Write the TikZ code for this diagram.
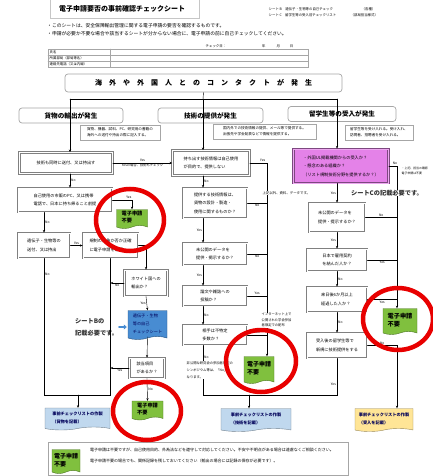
\documentclass[tikz,border=0pt]{standalone}
\usepackage{fontspec}
\setmainfont{Noto Sans CJK JP}
\usepackage{tikz}
\usetikzlibrary{shapes.symbols,arrows.meta}

\begin{document}
\begin{tikzpicture}
			[x=1pt,y=-1pt,line cap=round,>={Stealth[length=2.6pt,width=2.2pt]},
			%Styles
			check node/.style={draw=black!50,double=white,double distance=1pt,line width=.8pt,fill=white,inner sep=0pt,align=left,font={\fontsize{4.2}{8.5}\selectfont}},
			head node/.style={draw=gray!70,rounded corners=3pt,fill=white,line width=.7pt,font={\bfseries\fontsize{6.6}{8}\selectfont},minimum height=15pt},
			information text/.style={draw=gray!70,fill=white,line width=.5pt,inner sep=1.5pt,align=left,font={\fontsize{3.6}{6}\selectfont}},
			doc node/.style={tape,tape bend top=none,tape bend height=3pt,draw=#1!60!black,fill=#1,inner sep=1.5pt,align=left},
			small text/.style={font={\fontsize{3.4}{6}\selectfont},inner sep=.5pt,align=left},
			yn/.style={font={\fontsize{3.3}{4}\selectfont},inner sep=1pt},
			red ring/.style={draw=ringred,line width=4.5pt},
			boxsize/.style 2 args={minimum width=#1pt,minimum height=#2pt}
			]

			%Colors
			\definecolor{okgreen}{RGB}{128,192,62}
			\definecolor{sheetblue}{RGB}{72,140,210}
			\definecolor{listblue}{RGB}{192,216,238}
			\definecolor{listyellow}{RGB}{255,229,150}
			\definecolor{studypink}{RGB}{228,130,232}
			\definecolor{ringred}{RGB}{232,0,0}
			\colorlet{navytext}{blue!35!black}

			\useasboundingbox (0,0) rectangle (432,476);

			%Header of the sheet
			\node[draw=gray!45,boxsize={149}{27}] (title) at (124.5,5) {};
			\node[font={\bfseries\fontsize{7}{8}\selectfont}] (titletext) at (122,8.5) {電子申請要否の事前確認チェックシート};
			\node[small text,anchor=west] (sheetB) at (268,9) {シート B　遺伝子・生物等の自己チェック};
			\node[small text,anchor=west] (sheetBform) at (361,9) {（各種）};
			\node[small text,anchor=west] (sheetC) at (268,15.5) {シート C　留学生等の受入前チェックリスト};
			\node[small text,anchor=west] (sheetCform) at (350,15.5) {（部局担当様式）};
			\node[anchor=west,inner sep=0pt,font={\fontsize{4.8}{6}\selectfont}] (intro1) at (47,26) {・このシートは、安全保障輸出管理に関する電子申請の要否を確認するものです。};
			\node[anchor=west,inner sep=0pt,font={\fontsize{4.8}{6}\selectfont}] (intro2) at (47,34) {・申請が必要か不要な場合や該当するシートが分からない場合に、電子申請の前に自己チェックしてください。};
			\node[small text,anchor=west] (checkday) at (205,46) {チェック日：\hspace{36pt}年\hspace{11pt}月\hspace{10pt}日};
			\draw[gray!70,line width=.4pt] (48,49) rectangle (308,67) (48,55) -- (308,55) (48,61) -- (308,61) (110,49) -- (110,67);
			\node[small text,anchor=west] (rowName) at (49,52) {氏名};
			\node[small text,anchor=west] (rowDept) at (49,58) {所属部局（部局等名）};
			\node[small text,anchor=west] (rowTel) at (49,64) {連絡先電話（又は内線）};

			%The graphic
			\node[head node,boxsize={277}{18},font={\bfseries\fontsize{7}{8}\selectfont}] (contact) at (203.5,83) {海　外　や　外　国　人　と　の　コ　ン　タ　ク　ト　が　発　生};
			\coordinate (split) at (203,99);
			\coordinate (splitL) at (70,99);
			\coordinate (splitR) at (337,99);
			\coordinate (railM) at (267,0);
			\coordinate (railR) at (397,0);
			\coordinate (goodsJoin) at (78,395);
			\coordinate (techJoin) at (249,395);

			\draw (contact.south) -- (split);
			\draw (splitL) -- (splitR);

			\node[head node,boxsize={104}{15}] (hdrGoods) at (71,115.5) {貨物の輸出が発生};
			\node[head node,boxsize={105}{15}] (hdrTech) at (210.5,115.5) {技術の提供が発生};
			\node[head node,boxsize={108}{15}] (hdrStudy) at (342,114) {留学生等の受入が発生};
			\node[information text,boxsize={80}{15}] (noteGoods) at (120,132.5) {貨物、機器、試料、PC、研究用の書籍の\\海外への送付や持出の際に記入する。};
			\node[information text,boxsize={103}{15}] (noteTech) at (264.5,131.5) {国内外での技術情報の提供、メール等で提供する。\\出張先や学会発表などで情報を提供する。};
			\node[information text,boxsize={68}{15}] (noteStudy) at (379,132.5) {留学生等を受け入れる。受け入れ、\\訪問者、招聘者を受け入れる。};

			%goods
			\node[check node,boxsize={93}{21}] (L1) at (66,163) {技術も同時に送付、又は持出す};
			\node[check node,boxsize={94}{24}] (L2) at (65,200) {自己使用の市販のPC、又は携帯\\電話で、日本に持ち帰ること前提};
			\node[doc node=okgreen,boxsize={31}{19},font={\bfseries\fontsize{5.2}{7}\selectfont}] (greenA) at (132,217.5) {電子申請\\不要};
			\node[check node,boxsize={52}{25}] (L3) at (44,245.5) {遺伝子・生物等の\\送付、又は持出};
			\node[check node,boxsize={55}{25}] (L4) at (110.5,245.5) {規制の対象か否か正確\\に電子申請を確認};
			\node[check node,boxsize={43}{26}] (White) at (146,283) {ホワイト国への\\輸出か？};
			\node[doc node=sheetblue,boxsize={39}{29},text=navytext,font={\fontsize{4.2}{8}\selectfont}] (SheetB) at (147.5,323.5) {遺伝子・生物\\等の自己\\チェックシート};
			\node[anchor=west,align=left,inner sep=0pt,text=black!80,font={\bfseries\fontsize{6.2}{12}\selectfont}] (noteB) at (75,327) {シートBの\\記載必要です。};
			\node[check node,boxsize={35}{20}] (Gaitou) at (147,368) {該当項目\\があるか？};
			\node[doc node=okgreen,boxsize={31}{19},font={\bfseries\fontsize{5.2}{7}\selectfont}] (greenB) at (147.5,409) {電子申請\\不要};
			\node[doc node=listblue,boxsize={65}{22},text=navytext,font={\bfseries\fontsize{4.2}{8}\selectfont}] (checkGoods) at (77.5,417.5) {事前チェックリストの作製\\（貨物を記載）};

			%technology
			\node[check node,boxsize={77}{25}] (M1) at (211,163) {持ち出す技術情報は自己使用\\が目的で、提供しない};
			\node[check node,boxsize={64}{30}] (M2) at (215,203) {提供する技術情報は、\\貨物の設計・製造・\\使用に関するものか？};
			\node[check node,boxsize={64}{22}] (M3) at (215,254) {未公開のデータを\\提供・掲示するか？};
			\node[check node,boxsize={64}{20}] (M4) at (215,296) {論文や雑誌への\\投稿か？};
			\node[check node,boxsize={64}{20}] (M5) at (215,335) {相手は不特定\\多数か？};
			\node[doc node=okgreen,boxsize={30}{27},font={\bfseries\fontsize{6}{8}\selectfont}] (greenC) at (259,368.5) {電子申請\\不要};
			\node[doc node=listblue,boxsize={70}{23},text=navytext,font={\bfseries\fontsize{4.2}{8}\selectfont}] (checkTech) at (256,418.5) {事前チェックリストの作製\\（技術を記載）};

			%students
			\node[check node,boxsize={95}{34},fill=studypink,draw=studypink!55!black,double=studypink!70!white,line width=.8pt,font={\fontsize{4.2}{8.5}\selectfont}] (R1) at (341,166) {・外国UL掲載機関からの受入か？\\・懸念のある組織か？\\（リスト規制技術分野を提供するか？）};
			\node[check node,boxsize={56}{29}] (R2) at (337,217.5) {未公開のデータを\\提供・提示するか？};
			\node[check node,boxsize={60}{22}] (R3) at (337,260) {日本で雇用契約\\を結んだ人か？};
			\node[check node,boxsize={60}{25}] (R4) at (337,299.5) {来日後6か月以上\\経過した人か？};
			\node[check node,boxsize={60}{25}] (R5) at (337,345.5) {受入後の留学生等で\\新規に技術提供をする};
			\node[doc node=okgreen,boxsize={34}{26},font={\bfseries\fontsize{6.2}{8}\selectfont}] (greenD) at (400,320) {電子申請\\不要};
			\node[doc node=listyellow,boxsize={58}{23},text=navytext,font={\bfseries\fontsize{4.2}{8}\selectfont}] (checkStudy) at (384,418.5) {事前チェックリストの作製\\（受入を記載）};

			%connectors, goods
			\draw[->] (splitL) -- (splitL |- L1.north);
			\draw[->] (L1.east) -- node[yn,above]{Yes} node[yn,below]{Yesの場合、技術もチェック} (M1.west);
			\draw[->] (L1.south -| splitL) -- node[yn,right]{No} (L2.north -| splitL);
			\draw[->] (L2.east) -| node[yn,above,pos=.42]{Yes} (greenA.north);
			\draw[->] (L3.north |- L2.south) -- node[yn,right]{No} (L3.north);
			\draw[->] (L3.east) -- node[yn,above]{Yes} (L4.west);
			\draw (L3.south) -- node[yn,right,pos=.12]{No} (L3.south |- goodsJoin) -- (L4.south |- goodsJoin) -- (L4.south);
			\draw[->] (goodsJoin) -- (goodsJoin |- checkGoods.north);
			\draw[->] (L4.east) -| (White.north);
			\draw[->] (White.west) -- node[yn,below]{No} (White.west -| L4.south);
			\draw[->] (White.south) -- node[yn,left]{Yes} (SheetB.north);
			\draw[->] (SheetB.south) -- (Gaitou.north);
			\draw[->] (Gaitou.west) -- node[yn,below]{Yes} (Gaitou.west -| L4.south);
			\draw[->] (Gaitou.south) -- node[yn,right]{No} (greenB.north);
			\draw[-{Triangle[length=3pt,width=5pt]},sheetblue,line width=2pt,shorten <=1pt,shorten >=1pt] (noteB.east) -- (noteB.east -| SheetB.west);

			%connectors, technology
			\draw[->] (split) -- (split |- M1.north);
			\draw[->] (M1.east) -- node[yn,above,near end]{Yes} (M1.east -| railM) -- (railM |- greenC.north);
			\draw[->] (M1.south -| split) -- node[yn,right]{No} (M2.north -| split);
			\draw (M2.east) -- node[yn,below]{No} (M2.east -| railM);
			\draw[->] (M2.south -| split) -- node[yn,left]{Yes} (M3.north -| split);
			\draw (M3.east) -- node[yn,below]{No} (M3.east -| railM);
			\draw[->] (M3.south -| split) -- node[yn,left]{Yes} (M4.north -| split);
			\draw (M4.east) -- node[yn,above]{Yes} (M4.east -| railM);
			\draw[->] (M4.south -| split) -- node[yn,right]{No} (M5.north -| split);
			\draw (M5.east) -- node[yn,above]{Yes} (M5.east -| railM);
			\draw (M5.south -| split) -- node[yn,right,pos=.25]{No} (split |- techJoin) -- (R5.south |- techJoin) -- node[yn,left,pos=.3]{Yes} (R5.south);
			\draw[->] (techJoin) -- (techJoin |- checkTech.north);

			%connectors, students
			\draw[->] (splitR) -- (splitR |- R1.north);
			\draw[->] (R1.east) -- node[yn,above,near end]{No} (R1.east -| railR) -- (railR |- greenD.north);
			\draw[->] (R1.south -| R2.north) -- node[yn,left]{Yes} (R2.north);
			\draw (R2.east) -- node[yn,above]{No} (R2.east -| railR);
			\draw[->] (R2.south) -- node[yn,left]{Yes} (R3.north);
			\draw (R3.east) -- node[yn,below]{Yes} (R3.east -| railR);
			\draw[->] (R3.south) -- node[yn,right]{No} (R4.north);
			\draw (R4.east) -- node[yn,below]{Yes} (R4.east -| railR);
			\draw[->] (R4.south) -- node[yn,right]{No} (R5.north);
			\draw[->] (R5.east) -- node[yn,above]{No} (R5.east -| railR) -- (railR |- checkStudy.north);

			%texts beside the lines
			\node[small text,fill=white,anchor=west] (railTextM) at (262,193) {上記以外、資料、データです。};
			\node[small text,fill=white,anchor=west,font={\fontsize{3.3}{5.5}\selectfont}] (netText) at (261,320) {インターネット上で\\公開された学会参加\\者限定での配布};
			\node[small text,fill=white,anchor=north west,font={\fontsize{3.3}{7}\selectfont}] (noteM5) at (186,361) {非公開な研究会の参加者限定の\\シンポジウム等は、「No」と\\なります。};
			\node[small text,anchor=west,font={\fontsize{2.9}{5.5}\selectfont}] (noteR1) at (401,171) {・上記、担当の確認\\電子申請は不要};
			\node[fill=white,inner sep=.5pt,text=black!80,font={\bfseries\fontsize{6.2}{8}\selectfont}] (noteC) at (387,193) {シートCの記載必要です。};

			%legend
			\draw[gray!70,line width=.8pt] (48,442) rectangle (348,475);
			\node[doc node=okgreen,boxsize={28}{24},font={\bfseries\fontsize{6}{8}\selectfont}] (legendOk) at (66,460) {電子申請\\不要};
			\node[anchor=west,inner sep=0pt,font={\fontsize{4}{5}\selectfont}] (legend1) at (90,450) {電子申請は不要ですが、自己使用目的、外為法などを遵守して対応してください。不安や不明点がある場合は遠慮なくご相談ください。};
			\node[anchor=west,inner sep=0pt,font={\fontsize{4}{5}\selectfont}] (legend2) at (90,461) {電子申請不要の場合でも、関係記録を残しておいてください（輸出の場合には記録の保存が必要です）。};

			%red rings
			\draw[red ring] (130,220) ellipse [x radius=34, y radius=31];
			\draw[red ring] (147,411) ellipse [x radius=34, y radius=29];
			\draw[red ring] (261,361) ellipse [x radius=35, y radius=31];
			\draw[red ring] (398,319) ellipse [x radius=35, y radius=31];
		\end{tikzpicture}
\end{document}
